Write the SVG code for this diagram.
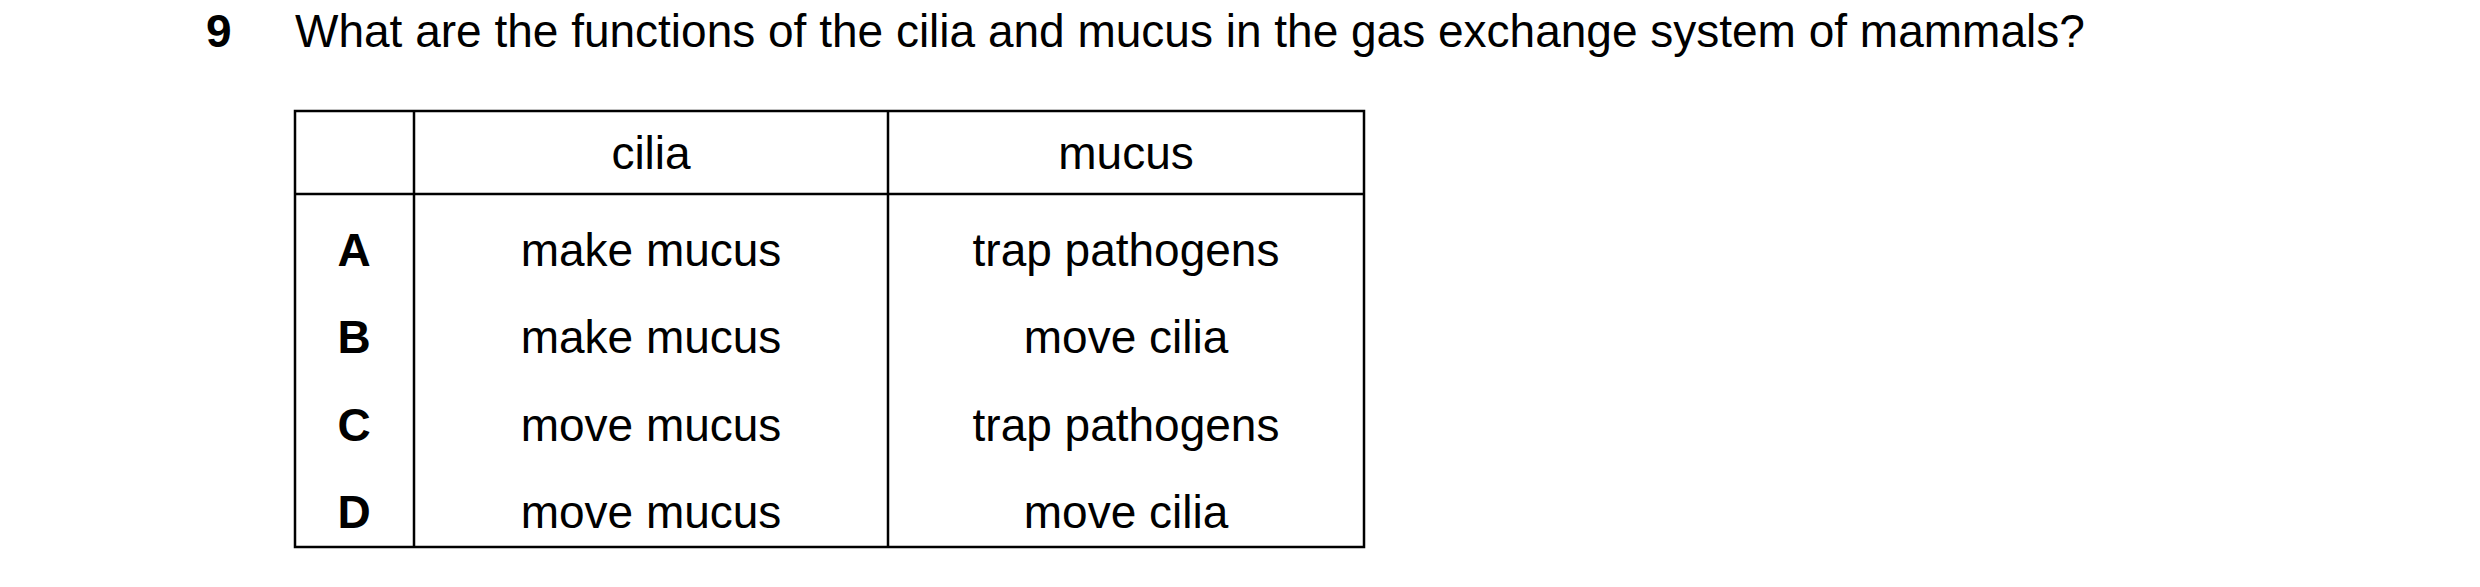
<svg xmlns="http://www.w3.org/2000/svg" width="2480" height="587" viewBox="0 0 2480 587">
<style>
text{font-family:"Liberation Sans",Arial,sans-serif;font-size:46px;fill:#000}
.c{text-anchor:middle}
.b{font-weight:bold}
.l{stroke:#000;stroke-width:2.5;fill:none}
</style>
<rect width="2480" height="587" fill="#fff"/>
<g id="question">
<text x="206" y="47" class="b">9</text>
<text x="295" y="47">What are the functions of the cilia and mucus in the gas exchange system of mammals?</text>
</g>
<g id="table">
<rect class="l" x="295" y="111" width="1069" height="436"/>
<line class="l" x1="414" y1="111" x2="414" y2="547"/>
<line class="l" x1="888" y1="111" x2="888" y2="547"/>
<line class="l" x1="295" y1="194" x2="1364" y2="194"/>
<text class="c" x="651" y="169">cilia</text>
<text class="c" x="1126" y="169">mucus</text>
<text class="c b" x="354" y="266">A</text>
<text class="c" x="651" y="266">make mucus</text>
<text class="c" x="1126" y="266">trap pathogens</text>
<text class="c b" x="354" y="353">B</text>
<text class="c" x="651" y="353">make mucus</text>
<text class="c" x="1126" y="353">move cilia</text>
<text class="c b" x="354" y="441">C</text>
<text class="c" x="651" y="441">move mucus</text>
<text class="c" x="1126" y="441">trap pathogens</text>
<text class="c b" x="354" y="528">D</text>
<text class="c" x="651" y="528">move mucus</text>
<text class="c" x="1126" y="528">move cilia</text>
</g>
</svg>
